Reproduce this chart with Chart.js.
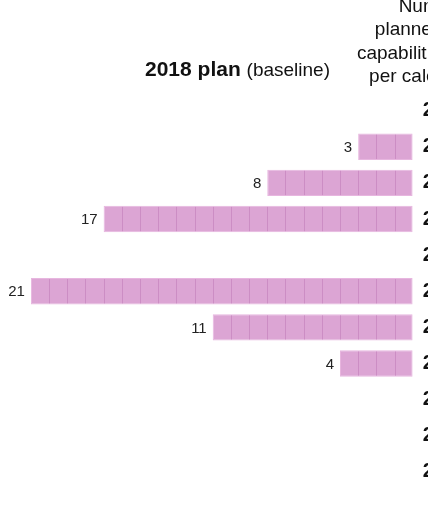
<!DOCTYPE html>
<html>
<head>
<meta charset="utf-8">
<script src="https://cdn.jsdelivr.net/npm/chart.js@4"></script>
<style>
  html, body { margin: 0; padding: 0; background: #fff; overflow: hidden; }
  #wrap { width: 520px; height: 512px; }
</style>
</head>
<body>
<div id="wrap"><canvas id="chartPlan" width="520" height="512"></canvas></div>
<script>
// calendar years (rows) and planned capabilities per year, 2018 baseline
const years = ['2018', '2019', '2020', '2021', '2022', '2023', '2024', '2025', '2026', '2027', '2028'];
const planned = [0, 3, 8, 17, 0, 21, 11, 4, 0, 0, 0];

const headerLines = ['Number of', 'planned product', 'capabilities released', 'per calendar year'];

const FONT = "'Liberation Sans', Arial, sans-serif";

// thin dividers so each bar reads as a row of unit blocks
const unitBlocks = {
    id: 'unitBlocks',
    afterDatasetsDraw(chart) {
        const ctx = chart.ctx;
        const x = chart.scales.x;
        const meta = chart.getDatasetMeta(0);
        ctx.save();
        ctx.strokeStyle = 'rgba(176, 96, 166, 0.35)';
        ctx.lineWidth = 1;
        meta.data.forEach((bar, i) => {
            const n = planned[i];
            const top = bar.y - bar.height / 2;
            const bot = bar.y + bar.height / 2;
            for (let k = 1; k < n; k++) {
                const px = Math.round(x.getPixelForValue(k)) + 0.5;
                ctx.beginPath();
                ctx.moveTo(px, top + 1);
                ctx.lineTo(px, bot - 1);
                ctx.stroke();
            }
            // value label at the open end of the bar
            if (n > 0) {
                ctx.fillStyle = '#222';
                ctx.font = '15px ' + FONT;
                ctx.textAlign = 'right';
                ctx.textBaseline = 'middle';
                ctx.fillText(String(n), x.getPixelForValue(n) - 6, bar.y + 1);
            }
        });
        ctx.restore();
    }
};

// panel title and column header
const headings = {
    id: 'headings',
    afterDraw(chart) {
        const ctx = chart.ctx;
        ctx.save();
        ctx.fillStyle = '#111';
        ctx.textBaseline = 'alphabetic';
        ctx.textAlign = 'left';
        ctx.font = 'bold 21px ' + FONT;
        const bold = '2018 plan';
        ctx.fillText(bold, 145, 76);
        const w = ctx.measureText(bold + ' ').width;
        ctx.font = '19px ' + FONT;
        ctx.fillText('(baseline)', 145 + w, 76);

        ctx.textAlign = 'center';
        ctx.font = '19px ' + FONT;
        headerLines.forEach((t, i) => {
            ctx.fillText(t, 443, 12 + i * 23.3);
        });
        ctx.restore();
    }
};

document.addEventListener('DOMContentLoaded', () => {

    new Chart(document.getElementById('chartPlan'), {
        type: 'bar',
        data: {
            labels: years,
            datasets: [{
                data: planned,
                backgroundColor: '#dca5d4',
                borderColor: '#e7b6df',
                borderWidth: 1,
                borderSkipped: false,
                barPercentage: 0.73,
                categoryPercentage: 1
            }]
        },
        options: {
            indexAxis: 'y',
            responsive: false,
            animation: false,
            layout: { padding: { top: 92.6, bottom: 16.8, left: 0, right: 0 } },
            plugins: {
                legend: { display: false },
                tooltip: { enabled: false }
            },
            scales: {
                x: {
                    display: false,
                    reverse: true,
                    min: 0,
                    max: 22.7
                },
                y: {
                    position: 'right',
                    grid: { display: false, drawTicks: false },
                    border: { display: false },
                    ticks: {
                        padding: 10,
                        color: '#111',
                        font: { family: FONT, size: 20, weight: 'bold' }
                    },
                    afterFit(s) { s.width = 107.3; }
                }
            }
        },
        plugins: [unitBlocks, headings]
    });
});
</script>
</body>
</html>
